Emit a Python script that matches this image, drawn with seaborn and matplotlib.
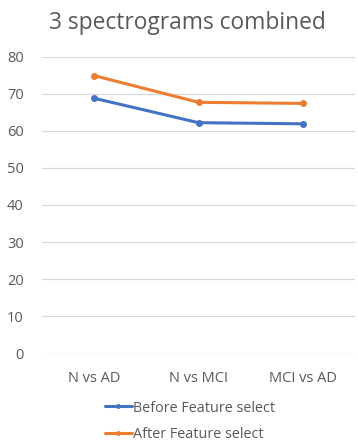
import matplotlib
matplotlib.use("Agg")
import matplotlib.pyplot as plt
import seaborn as sns
import pandas as pd

categories = ["N vs AD", "N vs MCI", "MCI vs AD"]
before_values = [68.8, 62.2, 61.9]
after_values = [74.9, 67.7, 67.4]
series_names = ["Before Feature select", "After Feature select"]
y_ticks = [0, 10, 20, 30, 40, 50, 60, 70, 80]

df = pd.DataFrame({
    "group": categories * 2,
    "accuracy": before_values + after_values,
    "series": [series_names[0]] * 3 + [series_names[1]] * 3,
})

sns.set_theme(style="white")
plt.rcParams["font.family"] = ["Open Sans", "DejaVu Sans"]

text_color = "#595959"
grid_color = "#D9D9D9"
palette = {series_names[0]: "#4472C4", series_names[1]: "#ED7D31"}

fig = plt.figure(figsize=(3.58, 4.43), dpi=100)
ax = fig.add_axes([0.117, 0.2025, 0.875, 0.6695])

sns.lineplot(data=df, x="group", y="accuracy", hue="series", palette=palette,
             marker="o", markersize=5, markeredgewidth=0, linewidth=2.2,
             sort=False, ax=ax)

ax.set_xlim(-0.5, 2.5)
ax.set_ylim(0, 80)
ax.set_yticks(y_ticks)
ax.yaxis.grid(True, color=grid_color, linewidth=0.9)
ax.set_axisbelow(True)
for side in ["top", "right", "left", "bottom"]:
    ax.spines[side].set_visible(False)
ax.set_xlabel("")
ax.set_ylabel("")
ax.tick_params(axis="both", length=0, colors=text_color, labelsize=10.5)
ax.tick_params(axis="y", pad=13)
ax.tick_params(axis="x", pad=13)

ax.get_legend().remove()
handles, labels = ax.get_legend_handles_labels()
fig.legend(handles, labels, loc="center", bbox_to_anchor=(0.53, 0.049),
           ncol=1, frameon=False, fontsize=10.4, labelcolor=text_color,
           handlelength=1.9, handletextpad=0.05, labelspacing=0.8,
           markerscale=0.7)

fig.text(0.524, 0.948, "3 spectrograms combined", ha="center", va="center",
         fontsize=16.4, color=text_color)

fig.savefig("out.png", dpi=100)
